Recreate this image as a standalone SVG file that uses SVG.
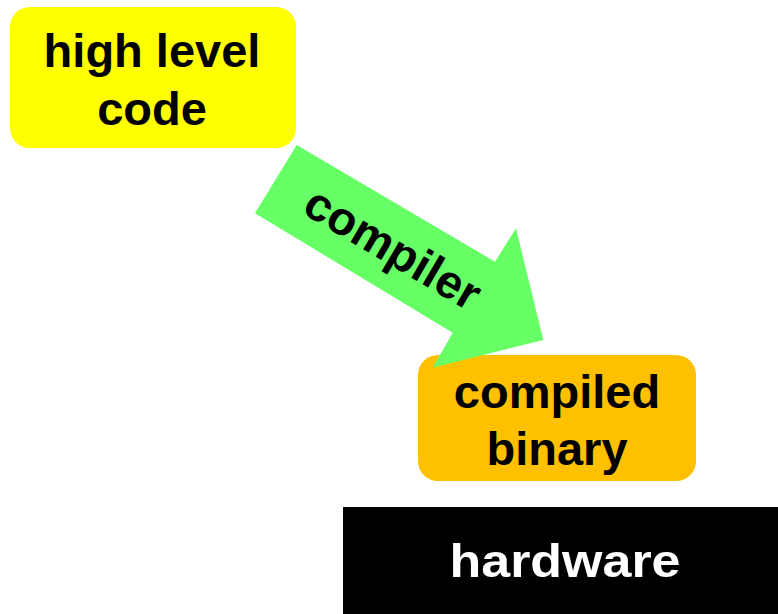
<svg xmlns="http://www.w3.org/2000/svg" width="778" height="614" viewBox="0 0 778 614">
  <style>
    .label { font-family: "Liberation Sans", Arial, sans-serif; font-weight: bold; font-size: 47px; text-anchor: middle; fill: #000; }
    .light { fill: #fff; }
  </style>
  <rect width="778" height="614" fill="#fff"/>

  <g id="high-level-code">
    <rect x="10" y="7" width="286" height="141" rx="20" ry="20" fill="#ffff00"/>
    <text class="label" x="152" y="67">high level</text>
    <text class="label" x="152" y="125">code</text>
  </g>

  <g id="compiled-binary">
    <rect x="418" y="355" width="278" height="126" rx="20" ry="20" fill="#ffc000"/>
    <text class="label" x="557" y="408">compiled</text>
    <text class="label" x="557" y="465">binary</text>
  </g>

  <g id="hardware">
    <rect x="343" y="507" width="440" height="112" fill="#000"/>
    <text class="label light" x="565" y="577" textLength="231" lengthAdjust="spacingAndGlyphs">hardware</text>
  </g>

  <g id="connectors">
    <g id="compiler-arrow">
      <polygon points="296.7,145 495,261.7 516,228.3 543.3,340 432.7,367.7 452.7,332.7 255,213.3" fill="#66ff66"/>
      <g transform="translate(275.8,179.2) rotate(30.5)">
        <text class="label" x="136" y="16">compiler</text>
      </g>
    </g>
  </g>
</svg>
